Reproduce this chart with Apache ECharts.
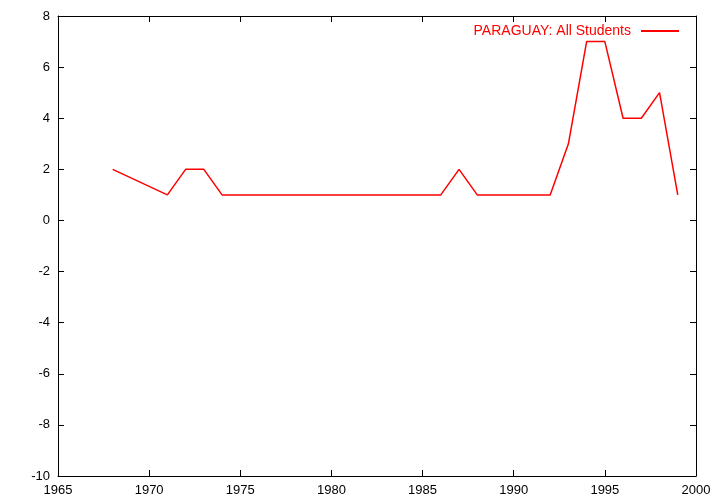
<!DOCTYPE html>
<html><head><meta charset="utf-8">
<script src="https://cdn.jsdelivr.net/npm/echarts@6/dist/echarts.min.js"></script>
<style>html,body{margin:0;padding:0;background:#fff}#c{width:720px;height:504px}</style>
</head><body><div id="c"></div>
<script>
var seriesName = 'PARAGUAY: All Students';
var years = [1968, 1971, 1972, 1973, 1974, 1975, 1976, 1977, 1978, 1979, 1980, 1981, 1982, 1983, 1984, 1985, 1986, 1987, 1988, 1989, 1990, 1991, 1992, 1993, 1994, 1995, 1996, 1997, 1998, 1999];
var values = [2, 1, 2, 2, 1, 1, 1, 1, 1, 1, 1, 1, 1, 1, 1, 1, 1, 2, 1, 1, 1, 1, 1, 3, 7, 7, 4, 4, 5, 1];
var xMin = 1965, xMax = 2000, xStep = 5;
var yMin = -10, yMax = 8, yStep = 2;

var data = years.map(function(y, i){ return [y, values[i]]; });
var font = 'Liberation Sans';
var axisLine = {show: true, onZero: false, lineStyle: {color: '#000', width: 1}};
var tick = {show: true, inside: true, length: 6, lineStyle: {color: '#000'}};
var chart = echarts.init(document.getElementById('c'), null, {renderer: 'canvas'});
chart.setOption({
  animation: false,
  backgroundColor: '#fff',
  grid: {left: 58, right: 24, top: 16, bottom: 28, containLabel: false},
  legend: {
    show: true, right: 36, top: 19, align: 'right',
    itemWidth: 38, itemHeight: 2, itemGap: 10,
    icon: 'rect',
    textStyle: {color: '#ff0000', fontFamily: font, fontSize: 14, padding: [0, 5, 0, 0]},
    data: [{name: seriesName, itemStyle: {color: '#ff0000'}}]
  },
  xAxis: [{
    type: 'value', min: xMin, max: xMax, interval: xStep, position: 'bottom',
    axisLine: axisLine, splitLine: {show: false}, axisTick: tick,
    axisLabel: {color: '#000', fontFamily: font, fontSize: 13, margin: 8,
      formatter: function(v){ return String(v); }}
  }, {
    type: 'value', min: xMin, max: xMax, interval: xStep, position: 'top',
    axisLine: axisLine, splitLine: {show: false}, axisTick: tick,
    axisLabel: {show: false}
  }],
  yAxis: [{
    type: 'value', min: yMin, max: yMax, interval: yStep, position: 'left',
    axisLine: axisLine, splitLine: {show: false}, axisTick: tick,
    axisLabel: {color: '#000', fontFamily: font, fontSize: 13, margin: 8}
  }, {
    type: 'value', min: yMin, max: yMax, interval: yStep, position: 'right',
    axisLine: axisLine, splitLine: {show: false}, axisTick: tick,
    axisLabel: {show: false}
  }],
  series: [{
    name: seriesName, type: 'line', data: data,
    xAxisIndex: 0, yAxisIndex: 0,
    showSymbol: false, symbol: 'none',
    lineStyle: {color: '#ff0000', width: 1.5},
    itemStyle: {color: '#ff0000'}
  }]
});
</script></body></html>
